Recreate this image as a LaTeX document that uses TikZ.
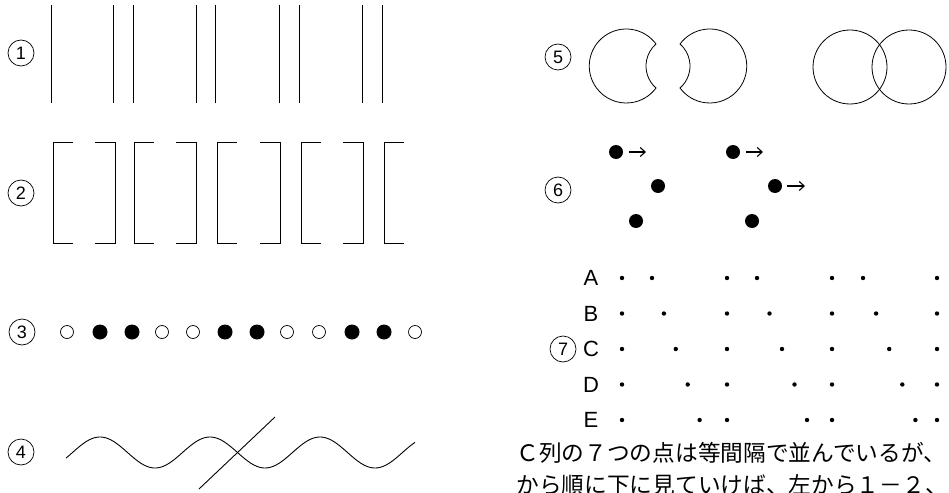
\documentclass[tikz,border=0pt]{standalone}
\usepackage{fontspec}
\newfontfamily\lab{Liberation Sans}
\newfontfamily\cjk{Noto Sans CJK JP}
\usetikzlibrary{arrows.meta}
\begin{document}
\begin{tikzpicture}[x=1pt,y=-1pt,line width=0.8pt,
  numlab/.style={circle,draw,line width=0.7pt,minimum size=26pt,inner sep=0pt,font=\lab\fontsize{18}{18}\selectfont},
  rowlab/.style={inner sep=0pt,font=\lab\fontsize{22}{22}\selectfont},
  bigdot/.style={circle,fill=black,minimum size=14pt,inner sep=0pt},
  opendot/.style={circle,draw,line width=0.7pt,minimum size=13pt,inner sep=0pt},
  smalldot/.style={circle,fill=black,minimum size=4.4pt,inner sep=0pt},
  arr/.style={line width=1.1pt,-{Straight Barb[length=5pt,width=9pt]}},
  jtext/.style={inner sep=0pt,anchor=base west,font=\cjk\fontsize{22.7}{32}\selectfont}]
\useasboundingbox (0,0) rectangle (949,492);
% labels
\node[numlab] (n1) at (21,53) {1};
\node[numlab] (n2) at (21,193) {2};
\node[numlab] (n3) at (22,332) {3};
\node[numlab] (n4) at (21,452) {4};
\node[numlab] (n5) at (558,57) {5};
\node[numlab] (n6) at (558,190) {6};
\node[numlab] (n7) at (563,349) {7};
% 1: lines
\foreach \x in {51,113,133,196,215,279,299,362,382}
  \draw[line width=0.7pt] (\x,5) -- (\x,103);
% 2: brackets
\foreach \x in {53,134,217,301,384}
  \draw[line width=0.7pt] (\x+20,142) -- (\x,142) -- (\x,243) -- (\x+20,243);
\foreach \x in {115,196,280,363}
  \draw[line width=0.7pt] (\x-20,142) -- (\x,142) -- (\x,243) -- (\x-20,243);
% 3: circles
\foreach \x/\t [count=\i] in {67/o,100/f,132/f,162/o,193/o,225/f,257/f,287/o,319/o,352/f,384/f,415/o}{
  \if o\t \node[opendot] (c\i) at (\x,332) {};
  \else \node[bigdot,minimum size=15pt] (c\i) at (\x,332) {}; \fi}
% 4: wave and line
\draw[line width=0.9pt] plot[domain=66:415,samples=160,smooth] (\x,{452.5-15.5*cos((\x-210)/110*360)});
\draw[line width=0.9pt] (199,489) -- (275,417);
% 5: split shapes
\draw[line width=0.8pt] (656,44) arc[start angle=-36.5,end angle=-323.5,radius=37]
   arc[start angle=131.1,end angle=228.9,radius=29.2] -- cycle;
\draw[line width=0.8pt] (680,44) arc[start angle=-143.5,end angle=143.5,radius=37]
   arc[start angle=48.9,end angle=-48.9,radius=29.2] -- cycle;
\draw[line width=0.8pt] (850,67) circle[radius=37];
\draw[line width=0.8pt] (909,67) circle[radius=37];
% 6: dots and arrows
\node[bigdot] (p1) at (616,152) {};
\node[bigdot] (p2) at (658,186) {};
\node[bigdot] (p3) at (636,221) {};
\node[bigdot] (q1) at (733,152) {};
\node[bigdot] (q2) at (775,186) {};
\node[bigdot] (q3) at (752,221) {};
\coordinate (pa) at (646,152);
\coordinate (qa) at (763,152);
\coordinate (qb) at (805,186);
\draw[arr] ([xshift=6pt]p1.east) -- (pa);
\draw[arr] ([xshift=6pt]q1.east) -- (qa);
\draw[arr] ([xshift=5pt]q2.east) -- (qb);
% 7: letters and dots
\foreach \l [count=\i from 0] in {A,B,C,D,E}{
  \node[rowlab] (r\l) at (591,278+35.5*\i) {\l};
  \foreach \x [count=\j] in {622,727,832,937}
    \node[smalldot] (f\l\j) at (\x,278+35.5*\i) {};
  \foreach \x [count=\j] in {652,757,863}
    \node[smalldot] (m\l\j) at (\x+11.3*\i+0.6*\j*\i,278+35.5*\i) {};
}
% text
\begin{scope}
\clip (0,0) rectangle (949,492);
\node[jtext] (t1) at (516,461) {Ｃ列の７つの点は等間隔で並んでいるが、};
\node[jtext] (t2) at (516,493) {から順に下に見ていけば、左から１－２、};
\end{scope}
\end{tikzpicture}
\end{document}
